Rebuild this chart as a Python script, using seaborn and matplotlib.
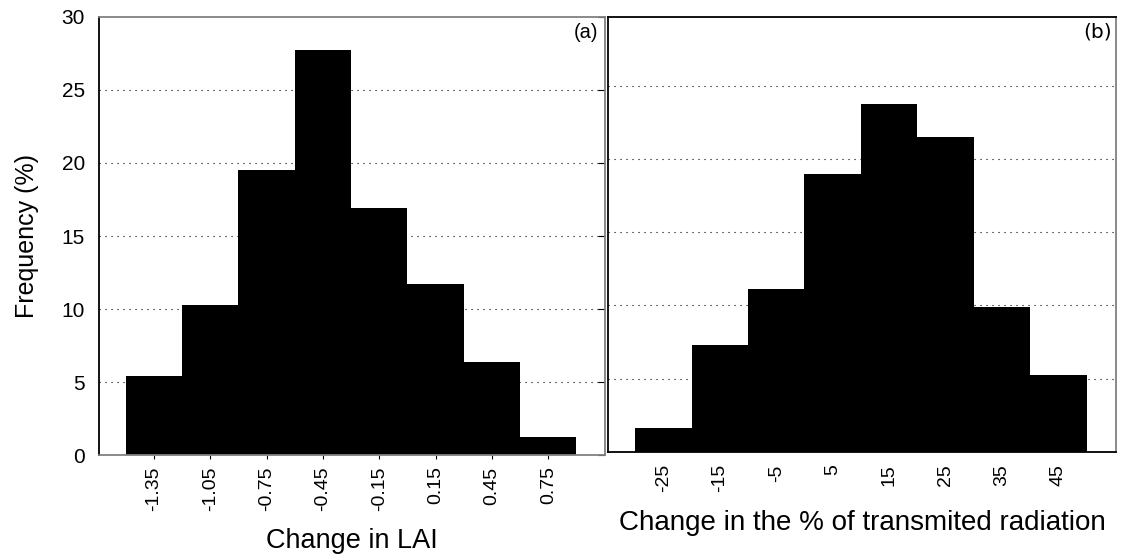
# Two frequency histograms: change in LAI (a) and change in transmitted radiation (b)

import seaborn as sns
import matplotlib.pyplot as plt

# (a) change in LAI: bin centres and frequency (%)
lai_centers = [-1.35, -1.05, -0.75, -0.45, -0.15, 0.15, 0.45, 0.75]
lai_freq = [5.4, 10.3, 19.5, 27.7, 16.9, 11.7, 6.4, 1.25]
lai_labels = ['-1.35', '-1.05', '-0.75', '-0.45', '-0.15', '0.15', '0.45', '0.75']

# (b) change in % of transmitted radiation
rad_centers = [-25, -15, -5, 5, 15, 25, 35, 45]
rad_freq = [1.6, 7.3, 11.1, 19.0, 23.8, 21.5, 9.9, 5.25]
rad_labels = ['-25', '-15', '-5', '5', '15', '25', '35', '45']

grid_levels = [5, 10, 15, 20, 25]

sns.set_style('white')
plt.rcParams['font.family'] = ['Liberation Sans', 'DejaVu Sans']
plt.rcParams['text.color'] = 'black'
plt.rcParams['axes.labelcolor'] = 'black'
plt.rcParams['xtick.color'] = 'black'
plt.rcParams['ytick.color'] = 'black'

fig = plt.figure(figsize=(11.22, 5.59), dpi=100)
ax1 = fig.add_axes([0.0882, 0.1855, 0.451, 0.7846])
ax2 = fig.add_axes([0.5419, 0.192, 0.4528, 0.7782])

dots = (0, (1, 4.4))

# panel (a)
sns.histplot(x=lai_centers, weights=lai_freq, binwidth=0.3, binrange=(-1.5, 0.9),
             color='black', edgecolor='black', linewidth=0, alpha=1, ax=ax1)
ax1.set_xlim(-1.643, 1.052)
ax1.set_ylim(0, 30)
ax1.set_yticks([0, 5, 10, 15, 20, 25, 30])
ax1.set_xticks(lai_centers)
ax1.set_xticklabels(lai_labels, rotation=90)
for lv in grid_levels:
    ax1.axhline(lv, color='black', lw=0.8, linestyle=dots, zorder=0)
ax1.tick_params(axis='y', left=False, right=True, direction='in', length=5,
                color='black', labelcolor='black', labelsize=15, pad=10)
ax1.tick_params(axis='x', bottom=True, direction='out', length=3,
                color='black', labelcolor='black', labelsize=14, pad=5)
ax1.set_ylabel('Frequency (%)', fontsize=18, labelpad=16, color='black')
ax1.set_xlabel('Change in LAI', fontsize=19.5, labelpad=12, color='black')
ax1.spines['left'].set_color('black')
for s in ['top', 'bottom', 'right']:
    ax1.spines[s].set_color('#808080')
for s in ax1.spines.values():
    s.set_linewidth(1.3)
ax1.text(0.986, 0.986, '(a)', transform=ax1.transAxes, ha='right', va='top',
         fontsize=14.5, color='black')

# panel (b)
sns.histplot(x=rad_centers, weights=rad_freq, binwidth=10, binrange=(-30, 50),
             color='black', edgecolor='black', linewidth=0, alpha=1, ax=ax2)
ax2.set_xlim(-34.8, 55.2)
ax2.set_ylim(0, 29.75)
ax2.set_yticks(grid_levels)
ax2.set_yticklabels([])
ax2.set_xticks(rad_centers)
ax2.set_xticklabels(rad_labels, rotation=90)
for lv in grid_levels:
    ax2.axhline(lv, color='black', lw=0.8, linestyle=dots, zorder=0)
ax2.tick_params(axis='y', left=False, length=0)
ax2.tick_params(axis='x', bottom=False, length=0, labelcolor='black', labelsize=14, pad=9)
ax2.set_ylabel('')
ax2.set_xlabel('Change in the % of transmited radiation', fontsize=20, labelpad=13,
               color='black')
for s in ['left', 'top', 'bottom']:
    ax2.spines[s].set_color('black')
ax2.spines['right'].set_color('#808080')
for s in ax2.spines.values():
    s.set_linewidth(1.3)
ax2.text(0.9915, 0.9855, '(b)', transform=ax2.transAxes, ha='right', va='top',
         fontsize=14.5, color='black', family=['DejaVu Sans'])

fig.savefig('out.png', dpi=100)
